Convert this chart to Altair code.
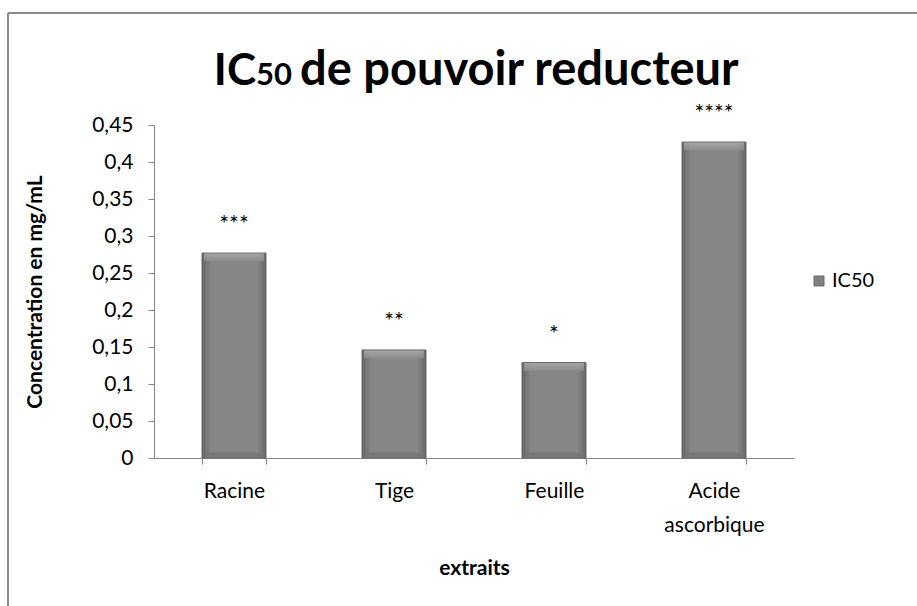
import altair as alt
import pandas as pd

# ---- data ----
categories = ["Racine", "Tige", "Feuille", "Acide ascorbique"]
values = [0.277, 0.146, 0.129, 0.427]
stars = ["***", "**", "*", "****"]
series_name = "IC50"
y_ticks = [0, 0.05, 0.1, 0.15, 0.2, 0.25, 0.3, 0.35, 0.4, 0.45]

df = pd.DataFrame({
    "extrait": categories,
    "valeur": values,
    "etoiles": stars,
    "serie": [series_name] * len(categories),
    "zero": [0.0] * len(categories),
})

FONT = "Lato"
W, H = 640, 333
PAD = {"left": 154, "top": 125, "right": 917 - 154 - W, "bottom": 606 - 125 - H}
AXIS_GRAY = "#868686"

x_axis = alt.Axis(
    title="extraits",
    labelAngle=0,
    labelExpr="split(datum.label, ' ')",
    labelFont=FONT,
    labelFontSize=21,
    labelColor="#000000",
    labelPadding=16,
    labelLineHeight=34,
    tickBand="extent",
    tickSize=6,
    tickColor=AXIS_GRAY,
    domainColor=AXIS_GRAY,
    titleFont=FONT,
    titleFontSize=21,
    titleFontWeight="bold",
    titleColor="#000000",
    titleX=W / 2,
    titleY=110,
    titleBaseline="middle",
    titleAlign="center",
)

y_axis = alt.Axis(
    title="Concentration en mg/mL",
    values=y_ticks,
    labelExpr="replace(format(datum.value, '.2~f'), '.', ',')",
    labelOverlap=False,
    labelFlush=False,
    labelFont=FONT,
    labelFontSize=21,
    labelColor="#000000",
    labelPadding=15,
    tickSize=6,
    tickColor=AXIS_GRAY,
    domainColor=AXIS_GRAY,
    grid=False,
    titleFont=FONT,
    titleFontSize=21,
    titleFontWeight="bold",
    titleColor="#000000",
    titleX=-119,
    titleY=H / 2,
    titleAngle=270,
    titleAlign="center",
    titleBaseline="middle",
)

x_scale = alt.Scale(paddingInner=0.6, paddingOuter=0.3)
y_scale = alt.Scale(domain=[0, 0.45], nice=False)


def xe():
    return alt.X("extrait:N", sort=categories, scale=x_scale, axis=x_axis)


def ye(field="valeur"):
    return alt.Y(f"{field}:Q", scale=y_scale, axis=y_axis)


base = alt.Chart(df)

legend_bar = base.mark_bar().encode(
    x=xe(),
    y=ye(),
    color=alt.Color(
        "serie:N",
        scale=alt.Scale(range=["#808080"]),
        legend=alt.Legend(
            title=None,
            orient="none",
            legendX=655,
            legendY=146,
            symbolType="square",
            symbolSize=100,
            symbolStrokeColor="#6a6a6a",
            symbolStrokeWidth=1,
            labelFont=FONT,
            labelFontSize=20,
            labelColor="#000000",
            labelOffset=3,
        ),
    ),
)

bevel_fill = alt.Gradient(
    gradient="linear",
    x1=0, x2=1, y1=0, y2=0,
    stops=[
        alt.GradientStop(offset=0, color="#626262"),
        alt.GradientStop(offset=0.07, color="#777777"),
        alt.GradientStop(offset=0.14, color="#868686"),
        alt.GradientStop(offset=0.86, color="#868686"),
        alt.GradientStop(offset=0.93, color="#777777"),
        alt.GradientStop(offset=1, color="#626262"),
    ],
)

face = base.mark_bar(fill=bevel_fill, stroke="#6a6a6a", strokeWidth=1).encode(
    x=xe(), y=ye(),
)

top_bevel = base.mark_tick(
    thickness=8,
    size=60,
    yOffset=4.5,
    color=alt.Gradient(
        gradient="linear", x1=0, x2=0, y1=0, y2=1,
        stops=[
            alt.GradientStop(offset=0, color="#b4b4b4"),
            alt.GradientStop(offset=1, color="#8c8c8c"),
        ],
    ),
).encode(x=xe(), y=ye())

bottom_bevel = base.mark_tick(
    thickness=5, size=60, yOffset=-3, color="#727272"
).encode(x=xe(), y=ye("zero"))

star_text = base.mark_text(
    font=FONT, fontSize=23, color="#000000", dy=-21, baseline="alphabetic"
).encode(
    x=xe(), y=ye(),
    text="etoiles:N",
)

one = alt.Chart(pd.DataFrame({"k": [0]}))
title_ic = one.mark_text(font=FONT, fontSize=44, fontWeight="bold", align="right",
                         baseline="alphabetic", color="#000000").encode(
    x=alt.value(102), y=alt.value(-40), text=alt.value("IC"))
title_50 = one.mark_text(font=FONT, fontSize=31, fontWeight="bold", align="left",
                         baseline="alphabetic", color="#000000").encode(
    x=alt.value(102), y=alt.value(-40), text=alt.value("50"))
title_rest = one.mark_text(font=FONT, fontSize=47, fontWeight="bold", align="left",
                           baseline="alphabetic", color="#000000").encode(
    x=alt.value(146), y=alt.value(-40), text=alt.value("de pouvoir reducteur"))

border_top = one.mark_rule(color="#8a8a8a", strokeWidth=2).encode(
    x=alt.value(-146), x2=alt.value(W + 200), y=alt.value(-112))
border_left = one.mark_rule(color="#8a8a8a", strokeWidth=2).encode(
    x=alt.value(-146), y=alt.value(-112), y2=alt.value(H + 200))

chart = alt.layer(
    legend_bar, face, top_bevel, bottom_bevel, star_text,
    title_ic, title_50, title_rest, border_top, border_left,
).properties(
    width=W,
    height=H,
    padding=PAD,
    autosize=alt.AutoSizeParams(type="none"),
    background="white",
).configure_view(strokeWidth=0)

chart.save("out.html", embed_options={"renderer": "svg", "actions": False})
